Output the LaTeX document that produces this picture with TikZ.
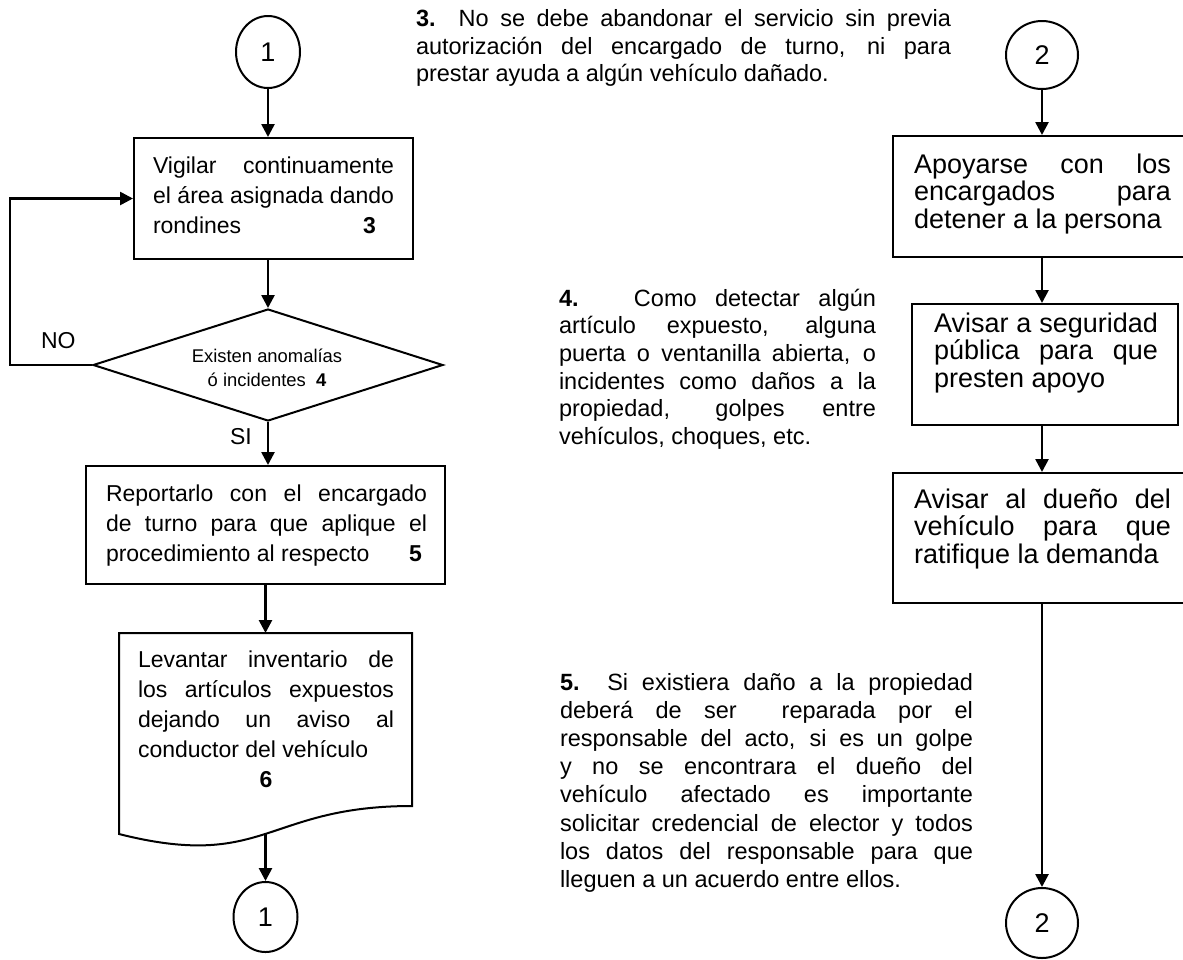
\documentclass[tikz,border=0pt]{standalone}
\usepackage{fontspec}
\setmainfont{Liberation Sans}
\usetikzlibrary{shapes.geometric,arrows.meta}
\newcommand\JL[1]{\hbox to\hsize{#1}}
\newcommand\NL[1]{\hbox{#1}}
\newcommand\fsL{\fontsize{23}{30}\selectfont\lineskiplimit=-50pt }
\newcommand\fsR{\fontsize{27}{27.5}\selectfont\lineskiplimit=-50pt }
\newcommand\fsN[1]{\fontsize{23.5}{#1}\selectfont\lineskiplimit=-50pt }
\newcommand\fsD{\fontsize{18.4}{24}\selectfont\lineskiplimit=-50pt }
\begin{document}
\begin{tikzpicture}[x=1pt,y=-1pt, line width=2pt,
  box/.style={draw, rectangle, inner sep=0pt},
  tx/.style={inner sep=0pt, anchor=base west},
  conn/.style={ellipse, draw, inner sep=0pt, font=\fontsize{27}{27}\selectfont},
  arr/.style={line width=2.6pt, -{Triangle[length=13pt,width=13pt]}}]
\useasboundingbox (0,0) rectangle (1183,959);
\fill[white] (0,0) rectangle (1183,959);
\clip (0,0) rectangle (1183,959);

% ---- left column ----
\node[conn, minimum width=64pt, minimum height=72pt] (c1a) at (268,52) {1};
\node[box, minimum width=279pt, minimum height=121pt] (b1) at (273.5,198.5) {};
\node[tx] (t1) at (152,173.5) {\parbox[t]{241pt}{\fsL\JL{Vigilar continuamente}\JL{el área asignada dando}\JL{rondines\hfill\textbf{3}\kern18pt}}};

\node[diamond, draw, aspect=3.125, inner sep=0pt, minimum width=350pt, minimum height=112pt] (d) at (268,365) {};
\node[inner sep=0pt, anchor=base] (td) at (267,362) {\parbox[t]{200pt}{\fsD\JL{\hfil Existen anomalías\hfil}\JL{\hfil ó incidentes\ \ \textbf{4}\hfil}}};
\node[tx] (no) at (40,348) {\fontsize{23}{23}\selectfont NO};
\node[tx] (si) at (229,444) {\fontsize{23}{23}\selectfont SI};

\node[box, minimum width=359pt, minimum height=118pt] (b2) at (265.5,525) {};
\node[tx] (t2) at (105,501.7) {\parbox[t]{321pt}{\fsL\JL{Reportarlo con el encargado}\JL{de turno para que aplique el}\JL{procedimiento al respecto\hfill\textbf{5}\kern5pt}}};

\draw (119,633) -- (412,633) -- (412,806) .. controls (265.5,806) and (265.5,871) .. (119,834) -- cycle;
\coordinate (b3t) at (265.5,633);
\coordinate (b3b) at (265.5,834);
\node[tx] (t3) at (137,667.7) {\parbox[t]{256pt}{\fsL\JL{Levantar inventario de}\JL{los artículos expuestos}\JL{dejando un aviso al}\NL{conductor del vehículo}\JL{\hfil\textbf{6}\hfil}}};
\node[conn, minimum width=64pt, minimum height=70pt] (c1b) at (265.5,917) {1};

\coordinate (lp) at (10,280);
\draw[arr] (c1a.south) -- (c1a.south |- b1.north);
\draw[arr] (b1.south -| d.north) -- (d.north);
\draw[arr] (d.west) -| (lp) |- (b1.west);
\draw[arr] (d.south) -- (d.south |- b2.north);
\draw[arr] (b2.south) -- (b3t);
\draw[arr] (b3b) -- (c1b.north);

% ---- right column ----
\node[conn, minimum width=72pt, minimum height=68pt] (c2a) at (1042,55) {2};
\node[box, minimum width=298pt, minimum height=121pt] (bA) at (1042,196.5) {};
\node[tx] (tA) at (913,173.3) {\parbox[t]{257pt}{\fsR\JL{Apoyarse con los}\JL{encargados para}\NL{detener a la persona}}};
\node[box, minimum width=266pt, minimum height=121pt] (bB) at (1045,364.5) {};
\node[tx] (tB) at (933,332) {\parbox[t]{224pt}{\fsR\JL{Avisar a seguridad}\JL{pública para que}\NL{presten apoyo}}};
\node[box, minimum width=298pt, minimum height=130pt] (bC) at (1042,538) {};
\node[tx] (tC) at (913,508) {\parbox[t]{257pt}{\fsR\JL{Avisar al dueño del}\JL{vehículo para que}\NL{ratifique la demanda}}};
\node[conn, minimum width=72pt, minimum height=70pt] (c2b) at (1042,923) {2};

\draw[arr] (c2a.south) -- (bA.north);
\draw[arr] (bA.south) -- (bA.south |- bB.north);
\draw[arr] (bB.south -| bA.south) -- (bC.north);
\draw[arr] (bC.south) -- (c2b.north);

% ---- notes ----
\node[tx] (n3) at (415,26.7) {\parbox[t]{535pt}{\fsN{27.5}\JL{\textbf{3.}\ \ No se debe abandonar el servicio sin previa}\JL{autorización del encargado de turno, ni para}\NL{prestar ayuda a algún vehículo dañado.}}};
\node[tx] (n4) at (558,306) {\parbox[t]{317pt}{\fsN{27.7}\JL{\textbf{4.}\ \ \ Como detectar algún}\JL{artículo expuesto, alguna}\JL{puerta o ventanilla abierta, o}\JL{incidentes como daños a la}\JL{propiedad, golpes entre}\NL{vehículos, choques, etc.}}};
\node[tx] (n5) at (559,690) {\parbox[t]{413pt}{\fsN{28.2}\JL{\textbf{5.}\ \ Si existiera daño a la propiedad}\JL{deberá de ser\ \ reparada por el}\JL{responsable del acto, si es un golpe}\JL{y no se encontrara el dueño del}\JL{vehículo afectado es importante}\JL{solicitar credencial de elector y todos}\JL{los datos del responsable para que}\NL{lleguen a un acuerdo entre ellos.}}};
\end{tikzpicture}
\end{document}
